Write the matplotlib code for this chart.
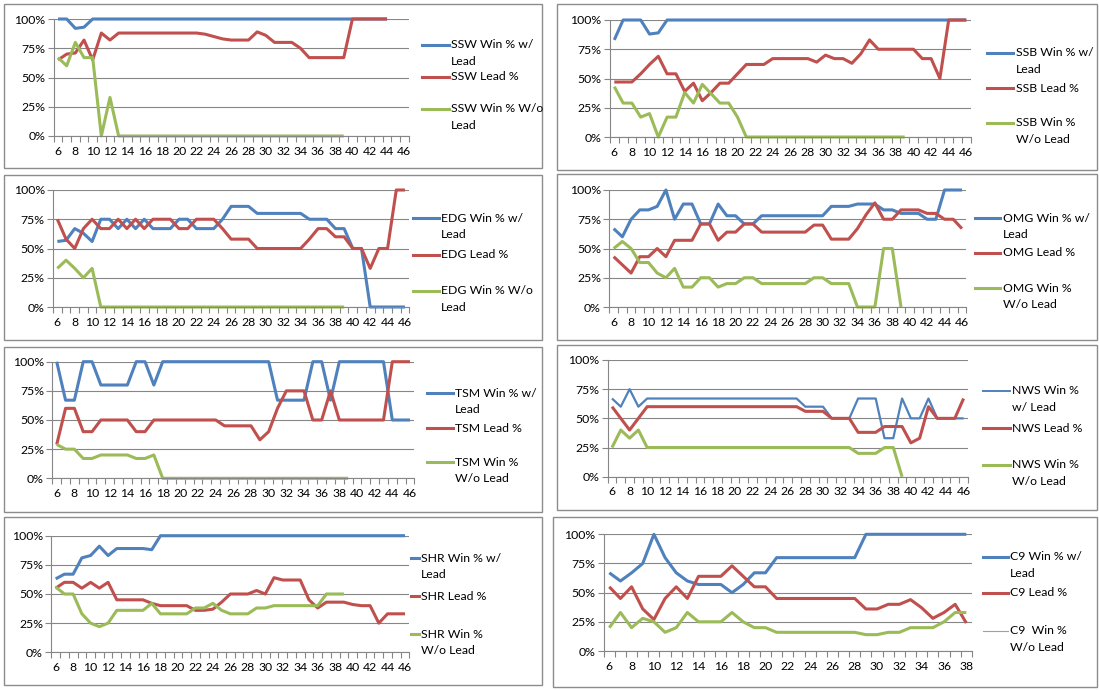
import numpy as np
import matplotlib
matplotlib.use("Agg")
import matplotlib.pyplot as plt
from matplotlib.patches import Rectangle
from matplotlib.lines import Line2D

plt.rcParams['font.family'] = ['Lato', 'DejaVu Sans']

W, H = 1099, 690
BLUE, RED, GREEN, GRID = '#4F81BD', '#C0504D', '#9BBB59', '#868686'
FS = 8.8

# ---- data (values in %, first game = 6) ----
teams = ['SSW', 'SSB', 'EDG', 'OMG', 'TSM', 'NWS', 'SHR', 'C9']
last_game = [46, 46, 46, 46, 46, 46, 46, 38]

ssw_win_lead = [100, 100, 92, 93, 100, 100, 100, 100, 100, 100, 100, 100, 100, 100, 100, 100, 100, 100, 100, 100,
                100, 100, 100, 100, 100, 100, 100, 100, 100, 100, 100, 100, 100, 100, 100, 100, 100, 100, 100]
ssw_lead = [65, 70, 71, 82, 65, 88, 82, 88, 88, 88, 88, 88, 88, 88, 88, 88, 88, 87, 85, 83,
            82, 82, 82, 89, 86, 80, 80, 80, 75, 67, 67, 67, 67, 67, 100, 100, 100, 100, 100]
ssw_win_nolead = [67, 60, 80, 67, 67, 0, 33, 0, 0, 0, 0, 0, 0, 0, 0, 0, 0, 0, 0, 0,
                  0, 0, 0, 0, 0, 0, 0, 0, 0, 0, 0, 0, 0, 0]

ssb_win_lead = [83, 100, 100, 100, 88, 89, 100, 100, 100, 100, 100, 100, 100, 100, 100, 100, 100, 100, 100, 100,
                100, 100, 100, 100, 100, 100, 100, 100, 100, 100, 100, 100, 100, 100, 100, 100, 100, 100, 100, 100, 100]
ssb_lead = [47, 47, 47, 54, 62, 69, 54, 54, 39, 46, 31, 38, 46, 46, 54, 62, 62, 62, 67, 67,
            67, 67, 67, 64, 70, 67, 67, 63, 71, 83, 75, 75, 75, 75, 75, 67, 67, 50, 100, 100, 100]
ssb_win_nolead = [43, 29, 29, 17, 20, 0, 17, 17, 38, 29, 45, 37, 29, 29, 17, 0, 0, 0, 0, 0,
                  0, 0, 0, 0, 0, 0, 0, 0, 0, 0, 0, 0, 0, 0]

edg_win_lead = [56, 57, 67, 63, 56, 75, 75, 67, 75, 67, 75, 67, 67, 67, 75, 75, 67, 67, 67, 75,
                86, 86, 86, 80, 80, 80, 80, 80, 80, 75, 75, 75, 67, 67, 50, 50, 0, 0, 0, 0, 0]
edg_lead = [75, 58, 50, 67, 75, 67, 67, 75, 67, 75, 67, 75, 75, 75, 67, 67, 75, 75, 75, 67,
            58, 58, 58, 50, 50, 50, 50, 50, 50, 58, 67, 67, 60, 60, 50, 50, 33, 50, 50, 100, 100]
edg_win_nolead = [33, 40, 33, 25, 33, 0, 0, 0, 0, 0, 0, 0, 0, 0, 0, 0, 0, 0, 0, 0,
                  0, 0, 0, 0, 0, 0, 0, 0, 0, 0, 0, 0, 0, 0]

omg_win_lead = [67, 60, 75, 83, 83, 86, 100, 75, 88, 88, 71, 71, 88, 78, 78, 71, 71, 78, 78, 78,
                78, 78, 78, 78, 78, 86, 86, 86, 88, 88, 88, 83, 83, 80, 80, 80, 75, 75, 100, 100, 100]
omg_lead = [43, 36, 29, 43, 43, 50, 43, 57, 57, 57, 71, 71, 57, 64, 64, 71, 71, 64, 64, 64,
            64, 64, 64, 70, 70, 58, 58, 58, 67, 79, 89, 75, 75, 83, 83, 83, 80, 80, 75, 75, 67]
omg_win_nolead = [50, 56, 50, 38, 38, 29, 25, 33, 17, 17, 25, 25, 17, 20, 20, 25, 25, 20, 20, 20,
                  20, 20, 20, 25, 25, 20, 20, 20, 0, 0, 0, 50, 50, 0]

tsm_win_lead = [100, 67, 67, 100, 100, 80, 80, 80, 80, 100, 100, 80, 100, 100, 100, 100, 100, 100, 100, 100,
                100, 100, 100, 100, 100, 67, 67, 67, 67, 100, 100, 67, 100, 100, 100, 100, 100, 100, 50, 50, 50]
tsm_lead = [29, 60, 60, 40, 40, 50, 50, 50, 50, 40, 40, 50, 50, 50, 50, 50, 50, 50, 50, 45,
            45, 45, 45, 33, 40, 60, 75, 75, 75, 50, 50, 75, 50, 50, 50, 50, 50, 50, 100, 100, 100]
tsm_win_nolead = [29, 25, 25, 17, 17, 20, 20, 20, 20, 17, 17, 20, 0, 0, 0, 0, 0, 0, 0, 0,
                  0, 0, 0, 0, 0, 0, 0, 0, 0, 0, 0, 0, 0, 0]

nws_win_lead = [67, 60, 75, 60, 67, 67, 67, 67, 67, 67, 67, 67, 67, 67, 67, 67, 67, 67, 67, 67,
                67, 67, 60, 60, 60, 50, 50, 50, 67, 67, 67, 33, 33, 67, 50, 50, 67, 50, 50, 50, 50]
nws_lead = [60, 50, 40, 50, 60, 60, 60, 60, 60, 60, 60, 60, 60, 60, 60, 60, 60, 60, 60, 60,
            60, 60, 56, 56, 56, 50, 50, 50, 38, 38, 38, 43, 43, 43, 29, 33, 60, 50, 50, 50, 67]
nws_win_nolead = [25, 40, 33, 40, 25, 25, 25, 25, 25, 25, 25, 25, 25, 25, 25, 25, 25, 25, 25, 25,
                  25, 25, 25, 25, 25, 25, 25, 25, 20, 20, 20, 25, 25, 0]

shr_win_lead = [63, 67, 67, 81, 83, 91, 83, 89, 89, 89, 89, 88, 100, 100, 100, 100, 100, 100, 100, 100,
                100, 100, 100, 100, 100, 100, 100, 100, 100, 100, 100, 100, 100, 100, 100, 100, 100, 100, 100, 100, 100]
shr_lead = [55, 60, 60, 55, 60, 55, 60, 45, 45, 45, 45, 42, 40, 40, 40, 40, 36, 36, 37, 43,
            50, 50, 50, 53, 50, 64, 62, 62, 62, 45, 38, 43, 43, 43, 41, 40, 40, 25, 33, 33, 33]
shr_win_nolead = [56, 50, 50, 33, 25, 22, 25, 36, 36, 36, 36, 42, 33, 33, 33, 33, 38, 38, 42, 36,
                  33, 33, 33, 38, 38, 40, 40, 40, 40, 40, 40, 50, 50, 50]

c9_win_lead = [67, 60, 67, 75, 100, 80, 67, 60, 57, 57, 57, 50, 57, 67, 67, 80, 80, 80, 80, 80,
               80, 80, 80, 100, 100, 100, 100, 100, 100, 100, 100, 100, 100]
c9_lead = [55, 45, 55, 36, 27, 45, 55, 45, 64, 64, 64, 73, 64, 55, 55, 45, 45, 45, 45, 45,
           45, 45, 45, 36, 36, 40, 40, 44, 37, 28, 33, 40, 24]
c9_win_nolead = [20, 33, 20, 28, 25, 16, 20, 33, 25, 25, 25, 33, 25, 20, 20, 16, 16, 16, 16, 16,
                 16, 16, 16, 14, 14, 16, 16, 20, 20, 20, 25, 33, 33]

series = [
    (ssw_win_lead, ssw_lead, ssw_win_nolead),
    (ssb_win_lead, ssb_lead, ssb_win_nolead),
    (edg_win_lead, edg_lead, edg_win_nolead),
    (omg_win_lead, omg_lead, omg_win_nolead),
    (tsm_win_lead, tsm_lead, tsm_win_nolead),
    (nws_win_lead, nws_lead, nws_win_nolead),
    (shr_win_lead, shr_lead, shr_win_nolead),
    (c9_win_lead, c9_lead, c9_win_nolead),
]

legend_text = [
    [['SSW Win % w/', 'Lead'], ['SSW Lead %'], ['SSW Win % W/o', 'Lead']],
    [['SSB Win % w/', 'Lead'], ['SSB Lead %'], ['SSB Win %', 'W/o Lead']],
    [['EDG Win % w/', 'Lead'], ['EDG Lead %'], ['EDG Win % W/o', 'Lead']],
    [['OMG Win % w/', 'Lead'], ['OMG Lead %'], ['OMG Win %', 'W/o Lead']],
    [['TSM Win % w/', 'Lead'], ['TSM Lead %'], ['TSM Win %', 'W/o Lead']],
    [['NWS Win %', 'w/ Lead'], ['NWS Lead %'], ['NWS Win %', 'W/o Lead']],
    [['SHR Win % w/', 'Lead'], ['SHR Lead %'], ['SHR Win %', 'W/o Lead']],
    [['C9 Win % w/', 'Lead'], ['C9 Lead %'], ['C9  Win %', 'W/o Lead']],
]

# ---- layout in pixels ----
# panel box (x0, y0, x1, y1)
boxes = [(4, 4, 542, 168), (557, 4, 1097, 170),
         (4, 175, 542, 340), (557, 174, 1097, 340),
         (4, 347, 542, 512), (557, 345, 1097, 510),
         (4, 517, 542, 685), (553, 517, 1097, 687)]
# plot area (left, right, top=100%, bottom=0%)
plots = [(53.7, 408.7, 19, 136), (609.9, 970.7, 20, 137),
         (53, 409.3, 190, 307), (609.3, 966.3, 190, 307),
         (52.3, 414.4, 361.7, 478.3), (607.6, 968, 360, 476.7),
         (51.3, 409.4, 535.7, 652.3), (603.7, 971.9, 534.3, 651)]
# legend: line x0, line x1, text x, y of each entry
legends = [(422, 449, 451, [45, 77, 109]), (987, 1013, 1016, [53, 88, 123]),
           (413, 439, 441, [218, 255, 291]), (975, 1000, 1003, [218, 253, 288]),
           (427, 453, 455, [393, 428, 462]), (983, 1010, 1012, [391, 428, 465]),
           (411, 419, 421, [558, 596, 634]), (983, 1008, 1010, [557, 593, 631])]
line_gap = 16.5

fig = plt.figure(figsize=(W / 100, H / 100), dpi=100)
fig.patch.set_facecolor('white')


def fx(x):
    return x / W


def fy(y):
    return 1 - y / H


for i, team in enumerate(teams):
    x0, y0, x1, y1 = boxes[i]
    fig.patches.append(Rectangle((fx(x0), fy(y1)), fx(x1 - x0), (y1 - y0) / H,
                                 transform=fig.transFigure, fill=False,
                                 edgecolor='#8c8c8c', linewidth=1.0))

    l, r, t, b = plots[i]
    ax = fig.add_axes([fx(l), fy(b), fx(r - l), (b - t) / H])
    last = last_game[i]
    games_all = np.arange(6, last + 1)

    for vals, col in zip(series[i], [BLUE, RED, GREEN]):
        g = np.arange(6, 6 + len(vals))
        lw = 1.6 if (team == 'NWS' and col == BLUE) else 2.2
        ax.plot(g, np.array(vals) / 100.0, color=col, linewidth=lw,
                solid_joinstyle='round', solid_capstyle='butt', clip_on=False)

    ax.set_xlim(5.5, last + 0.5)
    ax.set_ylim(0, 1)
    ax.set_yticks([0, 0.25, 0.5, 0.75, 1.0])
    ax.set_yticklabels(['0%', '25%', '50%', '75%', '100%'])
    ax.set_xticks(games_all[::2])
    ax.set_xticklabels([str(g) for g in games_all[::2]])
    ax.set_xticks(np.arange(5.5, last + 1.0, 1.0), minor=True)
    ax.tick_params(axis='x', which='major', length=0, pad=7, labelsize=FS, colors='black')
    ax.tick_params(axis='x', which='minor', length=4, color=GRID, width=0.8)
    ax.tick_params(axis='y', length=4, color=GRID, width=0.8, labelsize=FS, pad=2)
    ax.grid(axis='y', color=GRID, linewidth=0.8)
    ax.set_axisbelow(True)
    for s in ['top', 'right']:
        ax.spines[s].set_visible(False)
    for s in ['left', 'bottom']:
        ax.spines[s].set_color(GRID)
        ax.spines[s].set_linewidth(0.8)
    ax.patch.set_alpha(0)

    lx0, lx1, tx, ys = legends[i]
    for j, col in enumerate([BLUE, RED, GREEN]):
        lw = 2.2
        c = col
        if team == 'NWS' and j == 0:
            lw = 1.4
        if team == 'C9' and j == 2:
            lw = 0.8
            c = '#a0a0a0'
        fig.add_artist(Line2D([fx(lx0), fx(lx1)], [fy(ys[j]), fy(ys[j])],
                              transform=fig.transFigure, color=c, linewidth=lw))
        for k, txt in enumerate(legend_text[i][j]):
            fig.text(fx(tx), fy(ys[j] + k * line_gap), txt, fontsize=FS,
                     va='center', ha='left', color='black')

fig.savefig('out.png', dpi=100, facecolor='white')
